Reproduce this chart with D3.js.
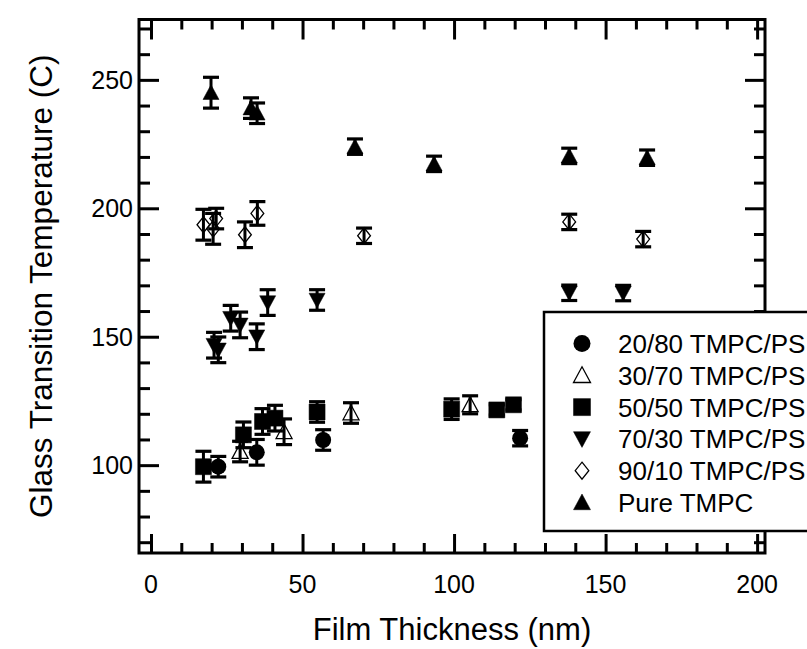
<!DOCTYPE html>
<html>
<head>
<meta charset="utf-8">
<script src="https://cdn.jsdelivr.net/npm/d3@7/dist/d3.min.js"></script>
<style>
  html, body { margin: 0; padding: 0; background: #fff; }
  svg { display: block; }
  text { font-family: "Liberation Sans", Arial, sans-serif; fill: #000; }
</style>
</head>
<body>
<svg id="chart" width="807" height="649"></svg>
<script>
// ---------------- DATA ----------------
const seriesNames = ["20/80 TMPC/PS", "30/70 TMPC/PS", "50/50 TMPC/PS", "70/30 TMPC/PS", "90/10 TMPC/PS", "Pure TMPC"];
const seriesShapes = ["circle", "triangleOpen", "square", "triangleDown", "diamondOpen", "triangleUp"];

const thick_20_80 = [22.2, 34.9, 56.8, 121.8];
const tg_20_80    = [99.4, 105.0, 109.8, 110.5];
const err_20_80   = [4, 5, 4, 3];

const thick_30_70 = [29.4, 43.9, 66.0, 105.3];
const tg_30_70    = [105.3, 113.0, 120.3, 123.5];
const err_30_70   = [4, 5, 4, 3.5];

const thick_50_50 = [17.3, 30.5, 36.8, 40.9, 54.8, 99.2, 114.1, 119.6];
const tg_50_50    = [99.4, 111.8, 117.0, 118.3, 120.7, 121.8, 121.5, 123.5];
const err_50_50   = [6, 5, 5, 5, 4, 4, 2, 2];

const thick_70_30 = [20.8, 22.2, 26.3, 29.4, 34.9, 38.5, 54.8, 138.0, 155.8];
const tg_70_30    = [146.7, 144.9, 157.2, 154.6, 150.0, 163.3, 164.3, 167.1, 167.0];
const err_70_30   = [5, 5, 5, 5, 5, 5, 4, 3, 3];

const thick_90_10 = [17.3, 20.5, 21.5, 31.0, 35.1, 70.3, 138.0, 162.4];
const tg_90_10    = [193.6, 192.0, 196.0, 189.7, 198.0, 189.3, 194.7, 188.0];
const err_90_10   = [6, 6, 4, 5, 4.6, 3, 3, 3];

const thick_pure  = [19.8, 33.0, 35.0, 67.3, 93.4, 138.0, 163.7];
const tg_pure     = [245.0, 239.0, 237.0, 224.0, 217.3, 220.4, 219.7];
const err_pure    = [6, 4, 4, 3, 3, 3, 3];

const xTickMajor = [0, 50, 100, 150, 200];
const yTickMajor = [100, 150, 200, 250];
const xTitle = "Film Thickness (nm)";
const yTitle = "Glass Transition Temperature (C)";

// -------------- LAYOUT ---------------
const L = 139, R = 765, T = 19.5, B = 553;
const xDomain = [-3.96, 202.6];
const yDomain = [65.8, 273.5];

const svg = d3.select("#chart");
const x = d3.scaleLinear().domain(xDomain).range([L, R]);
const y = d3.scaleLinear().domain(yDomain).range([B, T]);

const seriesData = [
  [thick_20_80, tg_20_80, err_20_80],
  [thick_30_70, tg_30_70, err_30_70],
  [thick_50_50, tg_50_50, err_50_50],
  [thick_70_30, tg_70_30, err_70_30],
  [thick_90_10, tg_90_10, err_90_10],
  [thick_pure, tg_pure, err_pure]
].map((s, i) => s[0].map((t, j) => ({x: t, y: s[1][j], e: s[2][j], shape: seriesShapes[i]})));

// -------------- AXES ---------------
const xMinor = d3.range(0, 201, 10).filter(v => !xTickMajor.includes(v));
const yMinor = d3.range(70, 271, 10).filter(v => !yTickMajor.includes(v));

const axW = 3;
function drawAxis(axisGen, transform) {
  const g = svg.append("g").attr("transform", transform).call(axisGen);
  g.select(".domain").remove();
  g.selectAll("line").attr("stroke", "#000").attr("stroke-width", axW);
  return g;
}
// bottom
drawAxis(d3.axisTop(x).tickValues(xTickMajor).tickSize(19).tickFormat(""), `translate(0,${B})`);
drawAxis(d3.axisTop(x).tickValues(xMinor).tickSize(10).tickFormat(""), `translate(0,${B})`);
// top
drawAxis(d3.axisBottom(x).tickValues(xTickMajor).tickSize(20).tickFormat(""), `translate(0,${T})`);
drawAxis(d3.axisBottom(x).tickValues(xMinor).tickSize(10).tickFormat(""), `translate(0,${T})`);
// left
drawAxis(d3.axisRight(y).tickValues(yTickMajor).tickSize(20).tickFormat(""), `translate(${L},0)`);
drawAxis(d3.axisRight(y).tickValues(yMinor).tickSize(11).tickFormat(""), `translate(${L},0)`);
// right
drawAxis(d3.axisLeft(y).tickValues(yTickMajor).tickSize(20).tickFormat(""), `translate(${R},0)`);
drawAxis(d3.axisLeft(y).tickValues(yMinor).tickSize(11).tickFormat(""), `translate(${R},0)`);

// frame
svg.append("rect").attr("x", L).attr("y", T).attr("width", R - L).attr("height", B - T)
  .attr("fill", "none").attr("stroke", "#000").attr("stroke-width", axW);

// tick labels
svg.append("g").selectAll("text").data(xTickMajor).join("text")
  .attr("x", d => x(d)).attr("y", B + 40)
  .attr("text-anchor", "middle").attr("font-size", 25).text(d => d);
svg.append("g").selectAll("text").data(yTickMajor).join("text")
  .attr("x", L - 6).attr("y", d => y(d) + 9)
  .attr("text-anchor", "end").attr("font-size", 25).text(d => d);

// titles
svg.append("text").attr("x", (L + R) / 2).attr("y", 640)
  .attr("text-anchor", "middle").attr("font-size", 31).text(xTitle);
svg.append("text").attr("transform", `translate(52,${(T + B) / 2}) rotate(-90)`)
  .attr("text-anchor", "middle").attr("font-size", 31.5).text(yTitle);

// -------------- MARKERS ---------------
function shapePath(shape, s) {
  const h = s / 2;
  switch (shape) {
    case "square": return `M${-h},${-h}H${h}V${h}H${-h}Z`;
    case "triangleUp":
    case "triangleOpen": return `M0,${-h}L${h},${h * 0.85}L${-h},${h * 0.85}Z`;
    case "triangleDown": return `M0,${h}L${h},${-h * 0.85}L${-h},${-h * 0.85}Z`;
    case "diamondOpen": return `M0,${-h}L${h * 0.8},0L0,${h}L${-h * 0.8},0Z`;
    default: return null;
  }
}
function drawMarker(g, shape, size) {
  if (shape === "circle") {
    g.append("circle").attr("r", size / 2).attr("fill", "#000");
  } else {
    const open = shape === "triangleOpen" || shape === "diamondOpen";
    g.append("path").attr("d", shapePath(shape, size))
      .attr("fill", open ? "none" : "#000")
      .attr("stroke", "#000").attr("stroke-width", open ? 1.3 : 0.5);
  }
}

const plot = svg.append("g");
const capW = 8;
seriesData.forEach(pts => {
  pts.forEach(p => {
    const g = plot.append("g");
    const cx = x(p.x);
    g.append("line").attr("x1", cx).attr("x2", cx).attr("y1", y(p.y - p.e)).attr("y2", y(p.y + p.e))
      .attr("stroke", "#000").attr("stroke-width", 3);
    [p.y - p.e, p.y + p.e].forEach(v => {
      g.append("line").attr("x1", cx - capW).attr("x2", cx + capW).attr("y1", y(v)).attr("y2", y(v))
        .attr("stroke", "#000").attr("stroke-width", 3.2);
    });
  });
});
seriesData.forEach(pts => {
  pts.forEach(p => {
    const g = plot.append("g").attr("transform", `translate(${x(p.x)},${y(p.y)})`);
    drawMarker(g, p.shape, 16);
  });
});

// -------------- LEGEND ---------------
const lg = svg.append("g");
lg.append("rect").attr("x", 544).attr("y", 312).attr("width", 300).attr("height", 219)
  .attr("fill", "#fff").attr("stroke", "#000").attr("stroke-width", 2.5);
seriesNames.forEach((name, i) => {
  const cy = 343.5 + i * 31.8;
  const g = lg.append("g").attr("transform", `translate(582,${cy})`);
  drawMarker(g, seriesShapes[i], 17);
  lg.append("text").attr("x", 618).attr("y", cy + 9.5).attr("font-size", 26).text(name);
});
</script>
</body>
</html>
